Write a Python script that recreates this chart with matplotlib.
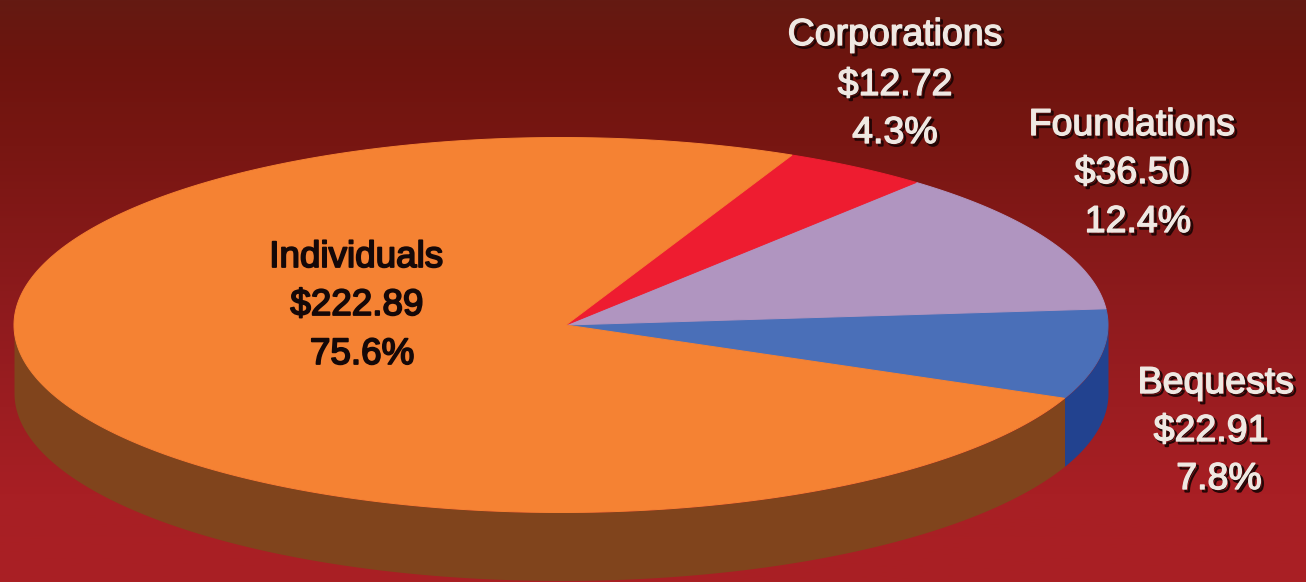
import numpy as np
import matplotlib
matplotlib.use("Agg")
import matplotlib.pyplot as plt
import matplotlib.patheffects as pe
from matplotlib.colors import LinearSegmentedColormap

# billions of dollars, counter-clockwise from the bequests slice
categories = ['Bequests', 'Foundations', 'Corporations', 'Individuals']
amounts = [22.91, 36.50, 12.72, 222.89]
amount_labels = ['$22.91', '$36.50', '$12.72', '$222.89']
pct_labels = ['7.8%', '12.4%', '4.3%', '75.6%']

top_colors = ['#4a6fb8', '#b095c0', '#ee1c30', '#f58233']
side_colors = {'Bequests': '#22428f', 'Individuals': '#80441c'}

W, H = 1306, 582
cx, cy = 561, 325      # ellipse centre in pixels
rx, ry = 547, 187.5    # ellipse radii in pixels
apex_x = 5 / rx        # the slices meet a little right of the ellipse centre
depth = 68 / ry
start = -23.0

plt.rcParams['font.family'] = ['Liberation Sans']

fig = plt.figure(figsize=(W / 100, H / 100), dpi=100)
ax = fig.add_axes([0, 0, 1, 1])

# background
cmap = LinearSegmentedColormap.from_list(
    'bg', [(0, '#641a12'), (0.1, '#6d140e'), (0.25, '#781612'), (0.55, '#901b1e'), (0.85, '#a81f24'), (1, '#aa2024')])
grad = np.linspace(0, 1, 256).reshape(-1, 1)
xlim = ((0 - cx) / rx, (W - cx) / rx)
ylim = ((cy - H) / ry, cy / ry)
ax.imshow(grad, cmap=cmap, aspect='auto', extent=(xlim[0], xlim[1], ylim[0], ylim[1]), zorder=0)

# side wall, from the slice angles
t1 = np.radians(np.linspace(start, 0, 60))
t2 = np.radians(np.linspace(-180, start, 300))
ax.fill_between(np.cos(t1), np.sin(t1) - depth, np.sin(t1), color=side_colors['Bequests'], lw=0, zorder=1)
ax.fill_between(np.cos(t2), np.sin(t2) - depth, np.sin(t2), color=side_colors['Individuals'], lw=0, zorder=1)

# top of the pie
edges = start + np.concatenate([[0], np.cumsum(amounts)]) / sum(amounts) * 360
for i in range(len(amounts)):
    t = np.radians(np.linspace(edges[i], edges[i + 1], 300))
    ax.fill(np.r_[apex_x, np.cos(t)], np.r_[0, np.sin(t)], facecolor=top_colors[i],
            edgecolor=top_colors[i], lw=0.7, zorder=2)

ax.set_xlim(xlim)
ax.set_ylim(ylim)
ax.axis('off')

# label anchors in pixels: x centre per line, baseline per line
label_xs = {'Bequests': [1216, 1211, 1219], 'Foundations': [1132, 1132, 1138],
            'Corporations': [895, 895, 895], 'Individuals': [356, 357, 362]}
label_ys = {'Bequests': [393, 441, 489], 'Foundations': [135, 183, 232],
            'Corporations': [45, 95, 143], 'Individuals': [267, 315, 364]}

white_fx = [pe.SimpleLineShadow(offset=(1.8, -1.8), shadow_color='#1e0505', alpha=0.95, linewidth=1.6),
            pe.withStroke(linewidth=1.0, foreground='#efe8e2')]
dark_fx = [pe.withStroke(linewidth=1.3, foreground='#150808')]

for i, name in enumerate(categories):
    lines = [name, amount_labels[i], pct_labels[i]]
    for j, line in enumerate(lines):
        x = label_xs[name][j] / W
        y = 1 - label_ys[name][j] / H
        if name == 'Individuals':
            fig.text(x, y, line, ha='center', va='baseline', fontsize=26.5,
                     color='#150808', path_effects=dark_fx, zorder=5)
        else:
            fig.text(x, y, line, ha='center', va='baseline', fontsize=27,
                     color='#efe8e2', path_effects=white_fx, zorder=5)

fig.savefig('out.png', dpi=100)
